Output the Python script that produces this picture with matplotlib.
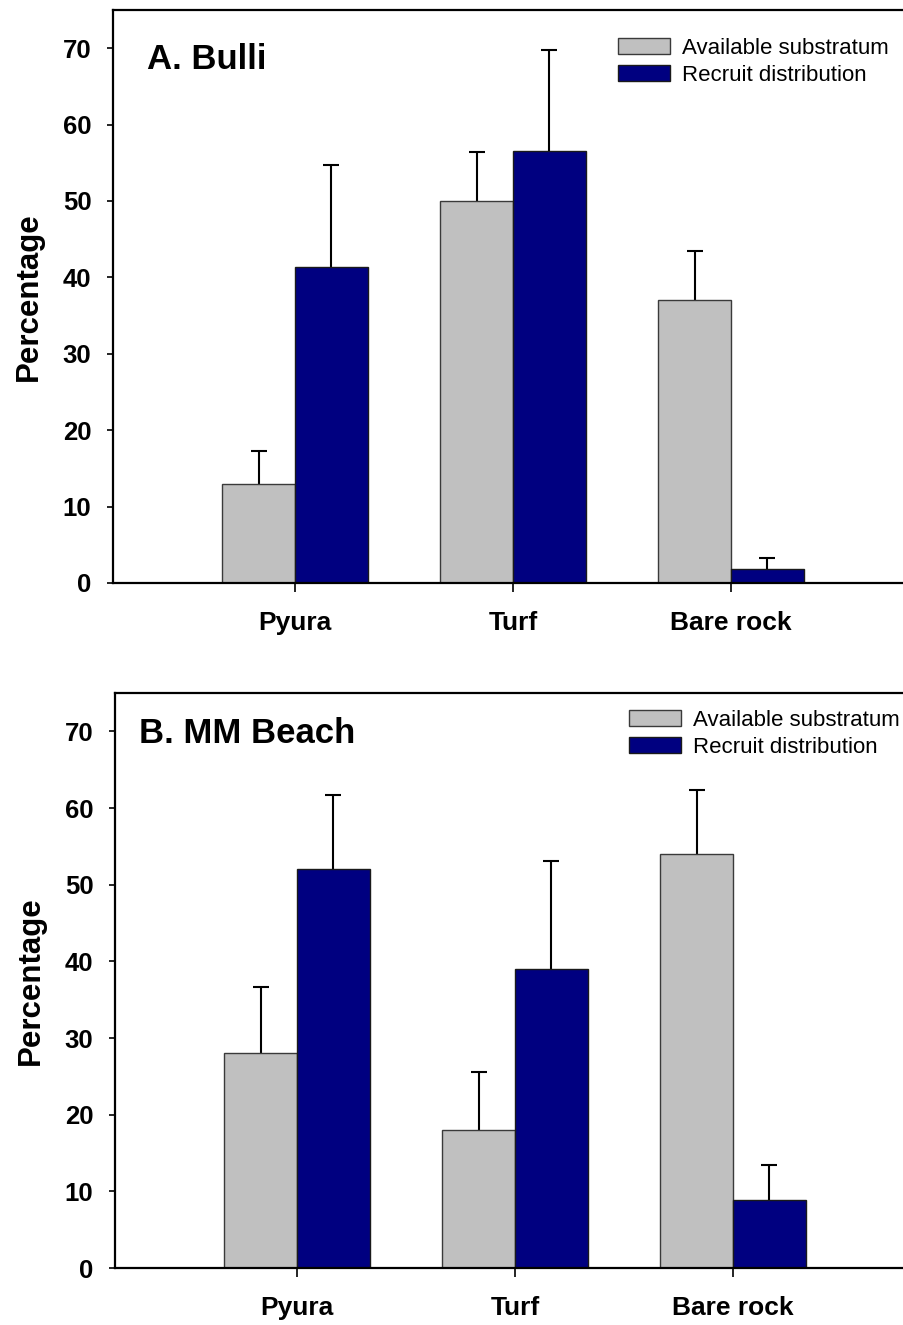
import matplotlib
matplotlib.use("Agg")
import matplotlib.pyplot as plt
import numpy as np

plt.rcParams['font.family'] = ['Liberation Sans', 'DejaVu Sans']

categories = ["Pyura", "Turf", "Bare rock"]
series_names = ["Available substratum", "Recruit distribution"]

bulli_available = [13.0, 50.0, 37.0]
bulli_available_err = [4.3, 6.4, 6.5]
bulli_recruit = [41.3, 56.5, 1.8]
bulli_recruit_err = [13.4, 13.3, 1.5]

mm_available = [28.0, 18.0, 54.0]
mm_available_err = [8.6, 7.6, 8.3]
mm_recruit = [52.0, 39.0, 8.9]
mm_recruit_err = [9.7, 14.1, 4.6]

yticks = [0, 10, 20, 30, 40, 50, 60, 70]

fig = plt.figure(figsize=(9.04, 13.25), dpi=100)

W, H = 904, 1325
panels = [
    dict(title="A. Bulli", avail=bulli_available, avail_err=bulli_available_err,
         rec=bulli_recruit, rec_err=bulli_recruit_err,
         left=113, top=10, bottom=583, title_xy=(147, 69), leg_xy=(618, 38)),
    dict(title="B. MM Beach", avail=mm_available, avail_err=mm_available_err,
         rec=mm_recruit, rec_err=mm_recruit_err,
         left=115, top=693, bottom=1268, title_xy=(139, 743), leg_xy=(629, 710)),
]

x = np.arange(1, len(categories) + 1)
bw = 0.333


def upper_err(ax, xs, ys, errs):
    cont = ax.errorbar(xs, ys, yerr=[np.zeros(len(ys)), errs], fmt='none',
                       ecolor='black', elinewidth=1.5, capsize=6, capthick=1.5, zorder=1)
    caps = cont.lines[1]
    if len(caps) > 1:
        caps[0].set_visible(False)


for p in panels:
    ax = fig.add_axes([p['left'] / W, 1 - p['bottom'] / H, 800 / W, (p['bottom'] - p['top']) / H])
    ax.bar(x - bw / 2, p['avail'], width=bw, color='#C0C0C0', edgecolor='#3a3a3a',
           linewidth=1.0, label=series_names[0], zorder=2)
    ax.bar(x + bw / 2, p['rec'], width=bw, color='#000080', edgecolor='#1a1a1a',
           linewidth=1.0, label=series_names[1], zorder=2)
    upper_err(ax, x - bw / 2, p['avail'], p['avail_err'])
    upper_err(ax, x + bw / 2, p['rec'], p['rec_err'])
    ax.set_xlim(0.165, 3.835)
    ax.set_ylim(0, 75)
    ax.set_yticks(yticks)
    ax.set_yticklabels([str(t) for t in yticks], fontsize=18.5, fontweight='bold')
    ax.set_xticks(x)
    ax.set_xticklabels(categories, fontsize=19, fontweight='bold')
    ax.tick_params(axis='y', length=4.5, width=1.2, pad=11, direction='out')
    ax.tick_params(axis='x', length=6.5, width=1.2, pad=14, direction='out')
    for s in ['left', 'bottom', 'top']:
        ax.spines[s].set_linewidth(1.6)
    ax.spines['right'].set_visible(False)
    ax.set_ylabel("Percentage", fontsize=22.5, fontweight='bold', labelpad=14)
    fig.text(p['title_xy'][0] / W, 1 - p['title_xy'][1] / H, p['title'], fontsize=25,
             fontweight='bold', ha='left', va='baseline')
    ax.legend(loc='upper left', bbox_to_anchor=(p['leg_xy'][0] / W, 1 - p['leg_xy'][1] / H),
              bbox_transform=fig.transFigure, frameon=False, fontsize=16,
              handlelength=2.34, handleheight=0.72, handletextpad=0.54,
              labelspacing=0.26, borderpad=0, borderaxespad=0)

fig.savefig("out.png", dpi=100)
